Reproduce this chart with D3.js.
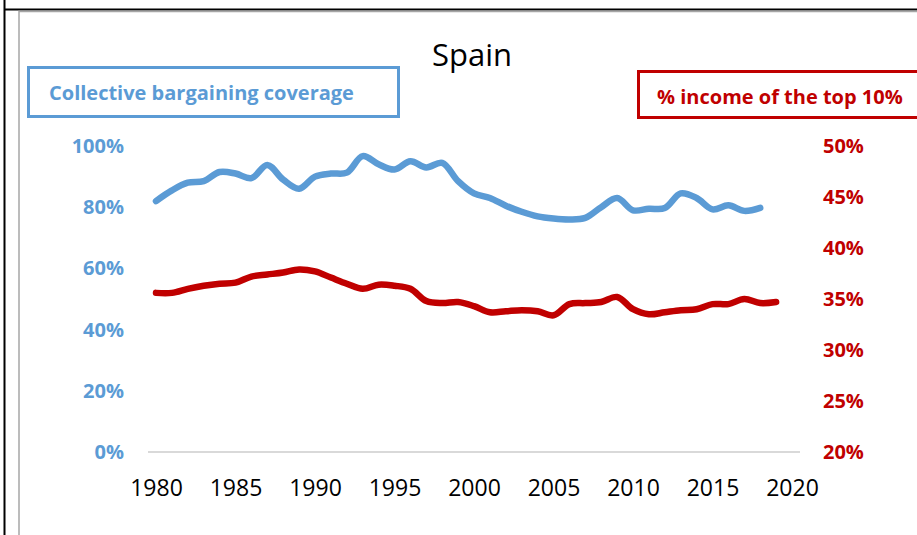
<!DOCTYPE html>
<html>
<head>
<meta charset="utf-8">
<script src="https://cdn.jsdelivr.net/npm/d3@7"></script>
<style>
  body { margin: 0; background: #fff; }
  svg { display: block; font-family: "Open Sans", sans-serif; }
  svg text { font-family: "Open Sans", sans-serif; }
</style>
</head>
<body>
<script>
// years on the x axis
const years = [1980, 1981, 1982, 1983, 1984, 1985, 1986, 1987, 1988, 1989,
               1990, 1991, 1992, 1993, 1994, 1995, 1996, 1997, 1998, 1999,
               2000, 2001, 2002, 2003, 2004, 2005, 2006, 2007, 2008, 2009,
               2010, 2011, 2012, 2013, 2014, 2015, 2016, 2017, 2018, 2019]

// collective bargaining coverage, % (1980-2018)
const coverage = [82, 85.5, 88, 88.5, 91.5, 91, 89.5, 93.8, 89, 86,
                  90, 91, 91.3, 96.7, 94, 92.3, 95, 93, 94.5, 88.5,
                  84.5, 83, 80.5, 78.5, 77, 76.3, 76, 76.5, 80, 83,
                  79, 79.5, 79.7, 84.5, 83, 79.3, 80.6, 78.8, 79.8]

// income share of the top 10%, % (1980-2019)
const top10 = [35.6, 35.6, 36.0, 36.3, 36.5, 36.6, 37.2, 37.4, 37.6, 37.9,
               37.7, 37.1, 36.5, 36.0, 36.4, 36.3, 36.0, 34.8, 34.6, 34.7,
               34.3, 33.7, 33.8, 33.9, 33.8, 33.4, 34.5, 34.6, 34.7, 35.2,
               34.0, 33.5, 33.7, 33.9, 34.0, 34.5, 34.5, 35.0, 34.6, 34.7]

const xTicks = [1980, 1985, 1990, 1995, 2000, 2005, 2010, 2015, 2020]
const leftTicks = [0, 20, 40, 60, 80, 100]
const rightTicks = [20, 25, 30, 35, 40, 45, 50]

const blue = '#5B9BD5'
const red = '#C00000'

const w = 917
const h = 535

const svg = d3.select('body')
    .append('svg')
    .attr('width', w)
    .attr('height', h)

// frame lines
svg.append('line').attr('x1', 4.5).attr('y1', 0).attr('x2', 4.5).attr('y2', h)
    .attr('stroke', '#000').attr('stroke-width', 2)
svg.append('line').attr('x1', 4).attr('y1', 9.5).attr('x2', w).attr('y2', 9.5)
    .attr('stroke', '#000').attr('stroke-width', 2)
svg.append('path').attr('d', `M19,${h} V11.5 H${w}`)
    .attr('fill', 'none').attr('stroke', '#a6a6a6').attr('stroke-width', 1.5)

let x = d3.scaleLinear()
    .domain([1980, 2020])
    .range([156, 792])

let yLeft = d3.scaleLinear()
    .domain([0, 100])
    .range([452, 146])

let yRight = d3.scaleLinear()
    .domain([20, 50])
    .range([452, 146])

// baseline
svg.append('line')
    .attr('x1', 148).attr('x2', 800)
    .attr('y1', yLeft(0)).attr('y2', yLeft(0))
    .attr('stroke', '#d9d9d9').attr('stroke-width', 2)

const xAxis = d3.axisBottom(x)
    .tickValues(xTicks)
    .tickFormat(d3.format('d'))
    .tickSize(0)
    .tickPadding(28)

const leftAxis = d3.axisLeft(yLeft)
    .tickValues(leftTicks)
    .tickFormat(d => d + '%')
    .tickSize(0)
    .tickPadding(24)

const rightAxis = d3.axisRight(yRight)
    .tickValues(rightTicks)
    .tickFormat(d => d + '%')
    .tickSize(0)
    .tickPadding(23)

const gx = svg.append('g')
    .attr('transform', `translate(0, ${yLeft(0)})`)
    .call(xAxis)
gx.selectAll('text').attr('fill', '#000').style('font-size', '23px')

const gl = svg.append('g')
    .attr('transform', 'translate(148, 0)')
    .call(leftAxis)
gl.selectAll('text').attr('fill', blue).style('font-size', '20px').style('font-weight', 'bold')

const gr = svg.append('g')
    .attr('transform', 'translate(800, 0)')
    .call(rightAxis)
gr.selectAll('text').attr('fill', red).style('font-size', '20px').style('font-weight', 'bold')

svg.selectAll('.domain').remove()

// lines
const blueLine = d3.line()
    .x((d, i) => x(years[i]))
    .y(d => yLeft(d))
    .curve(d3.curveCatmullRom.alpha(0.5))

const redLine = d3.line()
    .x((d, i) => x(years[i]))
    .y(d => yRight(d))
    .curve(d3.curveCatmullRom.alpha(0.5))

svg.append('path')
    .datum(coverage)
    .attr('d', blueLine)
    .attr('fill', 'none')
    .attr('stroke', blue)
    .attr('stroke-width', 6.5)
    .attr('stroke-linecap', 'round')
    .attr('stroke-linejoin', 'round')

svg.append('path')
    .datum(top10)
    .attr('d', redLine)
    .attr('fill', 'none')
    .attr('stroke', red)
    .attr('stroke-width', 6.5)
    .attr('stroke-linecap', 'round')
    .attr('stroke-linejoin', 'round')

// title
svg.append('text')
    .attr('x', 472)
    .attr('y', 66)
    .attr('text-anchor', 'middle')
    .style('font-size', '31px')
    .attr('fill', '#000')
    .text('Spain')

// legend boxes
svg.append('rect')
    .attr('x', 28.5).attr('y', 67.5)
    .attr('width', 370).attr('height', 49)
    .attr('fill', 'none').attr('stroke', blue).attr('stroke-width', 3)
svg.append('text')
    .attr('x', 49).attr('y', 100)
    .attr('fill', blue)
    .style('font-size', '20px').style('font-weight', 'bold')
    .text('Collective bargaining coverage')

svg.append('rect')
    .attr('x', 638.5).attr('y', 71.5)
    .attr('width', 300).attr('height', 46)
    .attr('fill', 'none').attr('stroke', red).attr('stroke-width', 3)
svg.append('text')
    .attr('x', 657).attr('y', 104)
    .attr('fill', red)
    .style('font-size', '20px').style('font-weight', 'bold')
    .text('% income of the top 10%')
</script>
</body>
</html>
